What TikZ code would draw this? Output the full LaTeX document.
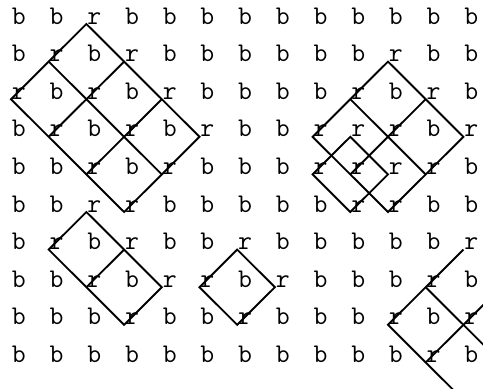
\documentclass[tikz,border=0pt]{standalone}
\usepackage{fontspec}
\begin{document}
\begin{tikzpicture}[x=37.7pt,y=-37.6pt,line width=1.9pt,
    cell/.style={anchor=base west,inner sep=0pt,font=\ttfamily\fontsize{27}{27}\selectfont}]
  \useasboundingbox (-11pt,24pt) rectangle (472pt,-365pt);

  % letter grid
  \foreach \row [count=\j from 0] in {%
      {b,b,r,b,b,b,b,b,b,b,b,b,b},
      {b,r,b,r,b,b,b,b,b,b,r,b,b},
      {r,b,r,b,r,b,b,b,b,r,b,r,b},
      {b,r,b,r,b,r,b,b,r,r,r,b,r},
      {b,b,r,b,r,b,b,b,r,r,r,r,b},
      {b,b,r,r,b,b,b,b,b,r,r,b,b},
      {b,r,b,r,b,b,r,b,b,b,b,b,r},
      {b,b,r,b,r,r,b,r,b,b,b,r,b},
      {b,b,b,r,b,b,r,b,b,b,r,b,r},
      {b,b,b,b,b,b,b,b,b,b,b,r,b}}
    \foreach \c [count=\i from 0] in \row
      \node[cell] (l-\i-\j) at (\i,\j) {\c};

  % off-grid ends
  \coordinate (e-12-10) at (12,10);
  \coordinate (e-13-9) at (13,9);
  \coordinate (e-13-7) at (13,7);

  % top left
  \draw (l-2-0.base west) -- (l-5-3.base west) -- (l-3-5.base west) -- (l-0-2.base west) -- cycle;
  \draw (l-1-1.base west) -- (l-4-4.base west);
  \draw (l-3-1.base west) -- (l-1-3.base west);
  \draw (l-4-2.base west) -- (l-2-4.base west);

  % bottom left
  \draw (l-2-5.base west) -- (l-4-7.base west) -- (l-3-8.base west) -- (l-1-6.base west) -- cycle;
  \draw (l-3-6.base west) -- (l-2-7.base west);

  % middle
  \draw (l-6-6.base west) -- (l-7-7.base west) -- (l-6-8.base west) -- (l-5-7.base west) -- cycle;

  % top right
  \draw (l-10-1.base west) -- (l-12-3.base west) -- (l-10-5.base west) -- (l-8-3.base west) -- cycle;
  \draw (l-9-2.base west) -- (l-11-4.base west);
  \draw (l-11-2.base west) -- (l-9-4.base west);
  \draw (l-9-3.base west) -- (l-10-4.base west) -- (l-9-5.base west) -- (l-8-4.base west) -- cycle;

  % bottom right, cut by the edge
  \begin{scope}
    \clip (-11pt,24pt) rectangle (472pt,-365pt);
    \draw (l-12-6.base west) -- (l-10-8.base west) -- (e-12-10);
    \draw (l-11-7.base west) -- (e-13-9);
    \draw (e-13-7) -- (l-11-9.base west);
  \end{scope}
\end{tikzpicture}
\end{document}
